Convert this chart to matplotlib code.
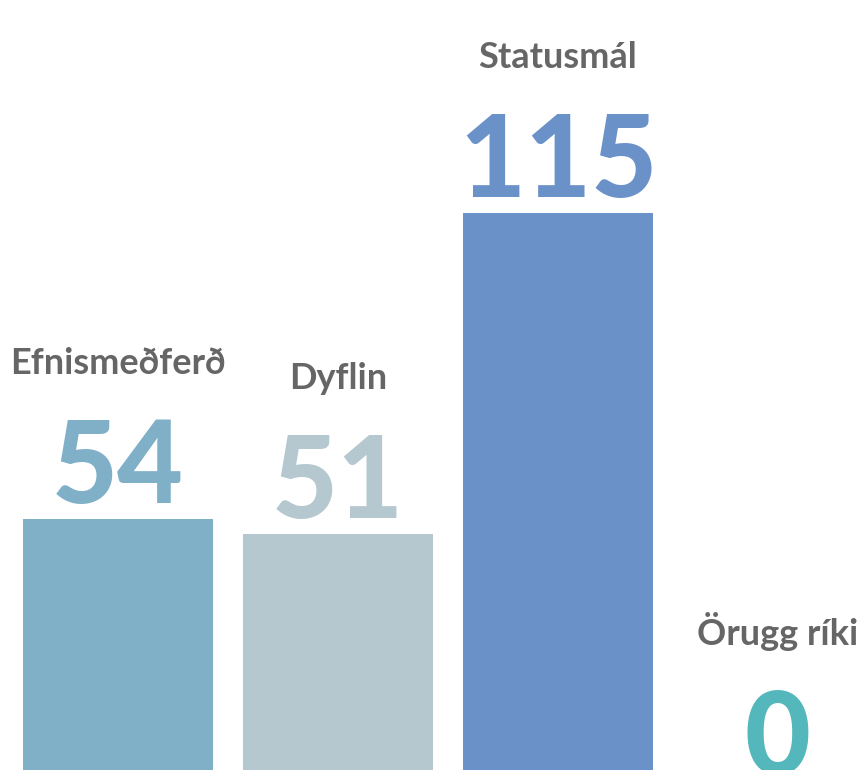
import matplotlib
matplotlib.use("Agg")
import matplotlib.pyplot as plt

categories = ["Efnismeðferð", "Dyflin", "Statusmál", "Örugg ríki"]
values = [54, 51, 115, 0]
colors = ["#7fb0c8", "#b5c7cf", "#6b91c9", "#53b7bb"]

fig = plt.figure(figsize=(8.6, 7.7), dpi=100)
ax = fig.add_axes([0, 0, 1, 1])
x = list(range(len(categories)))
ax.bar(x, values, width=0.865, color=colors, zorder=2)

for xi, v, cat, col in zip(x, values, categories, colors):
    ax.annotate(str(v), (xi, v), xytext=(0, 16), textcoords="offset pixels",
                ha="center", va="baseline", fontsize=82, fontweight="black",
                family="Lato", color=col, annotation_clip=False)
    ax.annotate(cat, (xi, v), xytext=(0, 145), textcoords="offset pixels",
                ha="center", va="baseline", fontsize=26, fontweight="bold",
                family="Lato", color="#666666", annotation_clip=False)

ax.set_xlim(-0.536, 3.373)
ax.set_ylim(3.99, 157.5)
ax.axis("off")
fig.savefig("out.png", dpi=100)
